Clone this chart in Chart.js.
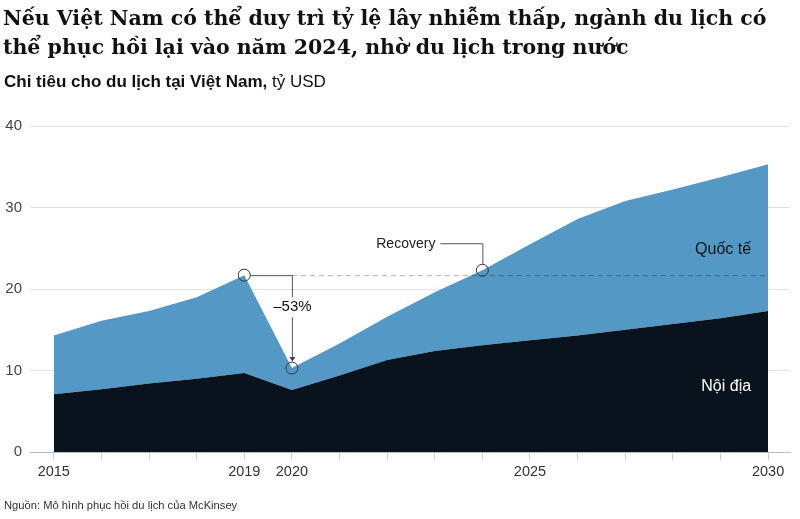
<!DOCTYPE html>
<html>
<head>
<meta charset="utf-8">
<script src="https://cdn.jsdelivr.net/npm/chart.js@4"></script>
<style>
  body { margin:0; background:#fff; }
  #wrap { position:relative; width:800px; height:519px; overflow:hidden; }
  #title { position:absolute; left:3px; top:4px; width:797px; white-space:nowrap; font:bold 20.5px "DejaVu Serif", serif; line-height:29px; color:#111; letter-spacing:0px; }
  #sub { position:absolute; left:4px; top:72px; font:17px "Liberation Sans", sans-serif; color:#111; }
  #src { position:absolute; left:4px; top:499px; font:11.2px "Liberation Sans", sans-serif; color:#333; }
  canvas { position:absolute; left:0; top:0; }
</style>
</head>
<body>
<div id="wrap">
  <canvas id="c" width="800" height="519"></canvas>
  <div id="title">Nếu Việt Nam có thể duy trì tỷ lệ lây nhiễm thấp, ngành du lịch có<br>thể phục hồi lại vào năm 2024, nhờ du lịch trong nước</div>
  <div id="sub"><b>Chi tiêu cho du lịch tại Việt Nam,</b> tỷ USD</div>
  <div id="src">Nguồn: Mô hình phục hồi du lịch của McKinsey</div>
</div>
<script>
// ---- data ----
const years = [2015,2016,2017,2018,2019,2020,2021,2022,2023,2024,2025,2026,2027,2028,2029,2030];
const domestic = [7.1,7.7,8.4,9.0,9.7,7.6,9.4,11.3,12.4,13.1,13.7,14.3,15.0,15.7,16.4,17.3];
const international = [7.2,8.4,8.9,10.0,12.0,2.7,3.9,5.3,7.2,9.2,11.8,14.3,15.8,16.5,17.3,18.0];
const xLabelYears = [2015,2019,2020,2025,2030];
const yTicks = [0,10,20,30,40];
const peakYear = 2019, lowYear = 2020, recoveryYear = 2024;
const dropLabel = '–53%';
const recoveryLabel = 'Recovery';
const intlLabel = 'Quốc tế';
const domLabel = 'Nội địa';

const BLUE = '#5499c6';
const DARK = '#08131d';

const totalAt = yr => { const i = years.indexOf(yr); return domestic[i] + international[i]; };

const annot = {
  id: 'annot',
  afterDatasetsDraw(chart) {
    const ctx = chart.ctx, xs = chart.scales.x, ys = chart.scales.y;
    const px = xs.getPixelForValue(peakYear), py = ys.getPixelForValue(totalAt(peakYear));
    const lx = xs.getPixelForValue(lowYear), ly = ys.getPixelForValue(totalAt(lowYear));
    const rx = xs.getPixelForValue(recoveryYear), ry = ys.getPixelForValue(totalAt(recoveryYear));
    const ex = xs.getPixelForValue(years[years.length-1]);
    const R = 6;
    ctx.save();
    // dashed reference line
    ctx.setLineDash([5,4]);
    ctx.strokeStyle = 'rgba(0,0,0,0.3)';
    ctx.lineWidth = 1;
    ctx.beginPath(); ctx.moveTo(lx, py + 0.5); ctx.lineTo(ex, py + 0.5); ctx.stroke();
    ctx.setLineDash([]);
    // solid connector peak -> low
    ctx.strokeStyle = '#555';
    ctx.beginPath(); ctx.moveTo(px + R, py + 0.5); ctx.lineTo(lx + 0.5, py + 0.5); ctx.lineTo(lx + 0.5, py + 22); ctx.stroke();
    ctx.beginPath(); ctx.moveTo(lx + 0.5, py + 42); ctx.lineTo(lx + 0.5, ly - R - 3); ctx.stroke();
    // arrow head
    ctx.fillStyle = '#444';
    ctx.beginPath(); ctx.moveTo(lx + 0.5, ly - R - 0.5); ctx.lineTo(lx - 2.5, ly - R - 5); ctx.lineTo(lx + 3.5, ly - R - 5); ctx.closePath(); ctx.fill();
    // drop label
    ctx.fillStyle = '#111';
    ctx.font = '15px "Liberation Sans", sans-serif';
    ctx.textAlign = 'center'; ctx.textBaseline = 'middle';
    ctx.fillText(dropLabel, lx + 0.5, py + 32);
    // recovery connector
    ctx.strokeStyle = '#555';
    ctx.beginPath(); ctx.moveTo(rx + 0.5, ry - R); ctx.lineTo(rx + 0.5, ry - 26.5); ctx.lineTo(rx - 42, ry - 26.5); ctx.stroke();
    ctx.fillStyle = '#222';
    ctx.font = '14px "Liberation Sans", sans-serif';
    ctx.textAlign = 'right';
    ctx.fillText(recoveryLabel, rx - 47, ry - 26);
    // circles
    ctx.strokeStyle = '#333'; ctx.lineWidth = 1;
    [[px,py],[lx,ly],[rx,ry]].forEach(([x,y]) => { ctx.beginPath(); ctx.arc(x, y, R, 0, Math.PI*2); ctx.stroke(); });
    // series labels
    ctx.font = '16px "Liberation Sans", sans-serif';
    ctx.textAlign = 'right';
    ctx.fillStyle = '#111';
    ctx.fillText(intlLabel, ex - 17, ys.getPixelForValue(24.8));
    ctx.fillStyle = '#fff';
    ctx.fillText(domLabel, ex - 17, ys.getPixelForValue(8.0));
    ctx.restore();
  }
};

new Chart(document.getElementById('c'), {
  type: 'line',
  data: {
    datasets: [
      { label: domLabel, data: years.map((y,i)=>({x:y, y:domestic[i]})), fill:'origin', backgroundColor: DARK, borderWidth:0, pointRadius:0, tension:0 },
      { label: intlLabel, data: years.map((y,i)=>({x:y, y:international[i]})), fill:'-1', backgroundColor: BLUE, borderWidth:0, pointRadius:0, tension:0 }
    ]
  },
  options: {
    responsive:false,
    animation:false,
    layout: { padding: { left:4, right:10, top:126, bottom:0 } },
    plugins: { legend:{display:false}, tooltip:{enabled:false}, title:{display:false} },
    scales: {
      x: {
        type:'linear', min:2014.5, max:2030.46,
        afterBuildTicks: s => { s.ticks = years.map(v=>({value:v})); },
        afterFit: s => { s.height = 67; },
        grid: { drawOnChartArea:false, drawTicks:true, tickLength:8, color:'#cfcfcf' },
        border: { display:true, color:'#bdbdbd', width:1 },
        ticks: { autoSkip:false, maxRotation:0, padding:3, color:'#333', font:{ family:'"Liberation Sans", sans-serif', size:14.5 },
          callback: v => xLabelYears.includes(v) ? String(v) : '' }
      },
      y: {
        stacked:true, min:0, max:40,
        afterBuildTicks: s => { s.ticks = yTicks.map(v=>({value:v})); },
        afterFit: s => { s.width = 26; },
        grid: { drawTicks:false, color:'#e2e2e2' },
        border: { display:false },
        ticks: { padding:8, color:'#444', font:{ family:'"Liberation Sans", sans-serif', size:15 } }
      }
    }
  },
  plugins:[annot]
});
</script>
</body>
</html>
